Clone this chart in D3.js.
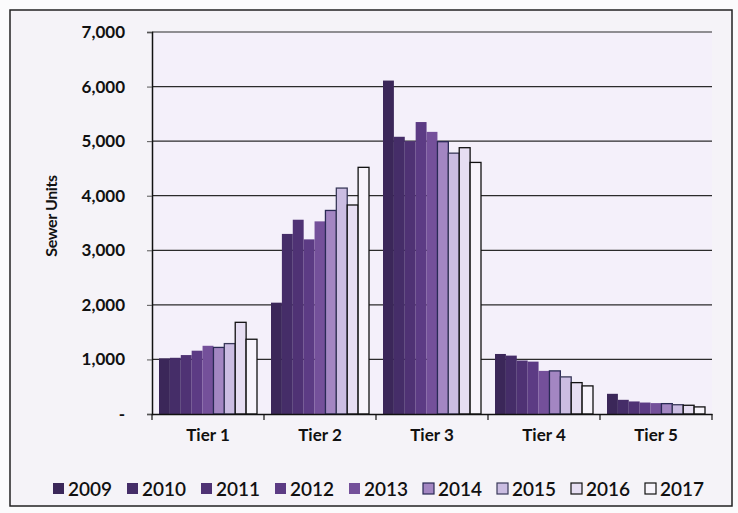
<!DOCTYPE html>
<html><head><meta charset="utf-8">
<script src="https://cdn.jsdelivr.net/npm/d3@7"></script>
<style>body{margin:0;background:#fff}svg{display:block}text{font-family:"Lato","Open Sans",sans-serif}</style>
</head><body>
<svg id="c" width="738" height="513"></svg>
<script>
const tiers = ["Tier 1","Tier 2","Tier 3","Tier 4","Tier 5"];
const years = ["2009","2010","2011","2012","2013","2014","2015","2016","2017"];
const v2009 = [1020, 2040, 6110, 1100, 370];
const v2010 = [1030, 3300, 5080, 1070, 260];
const v2011 = [1080, 3560, 5000, 980, 230];
const v2012 = [1160, 3200, 5350, 960, 210];
const v2013 = [1250, 3530, 5170, 790, 200];
const v2014 = [1220, 3730, 4990, 790, 190];
const v2015 = [1290, 4140, 4780, 680, 170];
const v2016 = [1680, 3830, 4880, 575, 160];
const v2017 = [1370, 4520, 4610, 515, 130];
const seriesValues = [v2009,v2010,v2011,v2012,v2013,v2014,v2015,v2016,v2017];
const yTicks = [0,1000,2000,3000,4000,5000,6000,7000];
const colors = ["#3b2759","#452d68","#4f3274","#5c3b84","#74509a","#a386c2","#cbbde2","#e6def2","#f7f4fb"];
const strokes = [null,null,null,null,null,"#2a2a55","#3a3a5a","#111","#111"];

const svg = d3.select("#c");
svg.append("rect").attr("x",0).attr("y",0).attr("width",738).attr("height",513).attr("fill","#fbfbfc");
svg.append("rect").attr("x",10).attr("y",10).attr("width",722).attr("height",496)
  .attr("fill","#f5f3f8").attr("stroke","#222").attr("stroke-width",1.5);

const L=152,R=712,T=32,B=414;
svg.append("rect").attr("x",L).attr("y",T).attr("width",R-L).attr("height",B-T).attr("fill","#f4f0fa");

const x0 = d3.scaleBand().domain(tiers).range([L,R]).padding(0);
const x1 = d3.scaleBand().domain(years).range([7, x0.bandwidth()-7]).padding(0);
const y = d3.scaleLinear().domain([0,7000]).range([B,T]);

// gridlines
svg.append("g").selectAll("line").data(yTicks.filter(d=>d>0)).join("line")
  .attr("x1",L).attr("x2",R).attr("y1",d=>y(d)).attr("y2",d=>y(d))
  .attr("stroke","#2b2b2b").attr("stroke-width",1.2);

// bars
const g = svg.append("g");
years.forEach((yr,i)=>{
  g.append("g").selectAll("rect").data(seriesValues[i].map((v,j)=>({t:tiers[j],v}))).join("rect")
    .attr("x",d=>x0(d.t)+x1(yr)).attr("width",x1.bandwidth())
    .attr("y",d=>y(d.v)).attr("height",d=>B-y(d.v))
    .attr("fill",colors[i])
    .attr("stroke",strokes[i]||"none").attr("stroke-width",strokes[i]?1.3:0);
});

// y axis
const yAxis = d3.axisLeft(y).tickValues(yTicks).tickSize(5).tickPadding(22)
  .tickFormat(d=>d===0?"-":d3.format(",")(d));
const ya = svg.append("g").attr("transform",`translate(${L},0)`).call(yAxis);
ya.select(".domain").attr("stroke","#111").attr("stroke-width",1.5);
ya.selectAll(".tick line").attr("stroke","#555");
ya.selectAll("text").attr("font-size",17).attr("font-weight","bold").attr("fill","#111");

// x axis
const xa = svg.append("g").attr("transform",`translate(0,${B})`)
  .call(d3.axisBottom(x0).tickSize(0).tickPadding(15));
xa.select(".domain").attr("stroke","#111").attr("stroke-width",1.5);
xa.selectAll("text").attr("font-size",17).attr("font-weight","bold").attr("fill","#111");
// category boundary ticks
svg.append("g").selectAll("line").data(tiers.concat(["end"])).join("line")
  .attr("x1",(d,i)=>i<tiers.length?x0(d):R).attr("x2",(d,i)=>i<tiers.length?x0(d):R)
  .attr("y1",B).attr("y2",B+6).attr("stroke","#111").attr("stroke-width",1.2);

// y title
svg.append("text").attr("transform","translate(57,216) rotate(-90)")
  .attr("text-anchor","middle").attr("font-size",16).attr("font-weight","bold")
  .attr("letter-spacing","-0.4").attr("fill","#111").text("Sewer Units");

// legend
const lg = svg.append("g").attr("transform","translate(53,489)");
years.forEach((yr,i)=>{
  const it = lg.append("g").attr("transform",`translate(${i*74},0)`);
  it.append("rect").attr("x",0).attr("y",-6).attr("width",11).attr("height",11)
    .attr("fill",colors[i]).attr("stroke",strokes[i]||"none").attr("stroke-width",1.2);
  it.append("text").attr("x",15).attr("y",0).attr("dy","0.35em")
    .attr("font-size",19).attr("fill","#111").attr("font-weight","600").text(yr);
});
</script>
</body></html>
